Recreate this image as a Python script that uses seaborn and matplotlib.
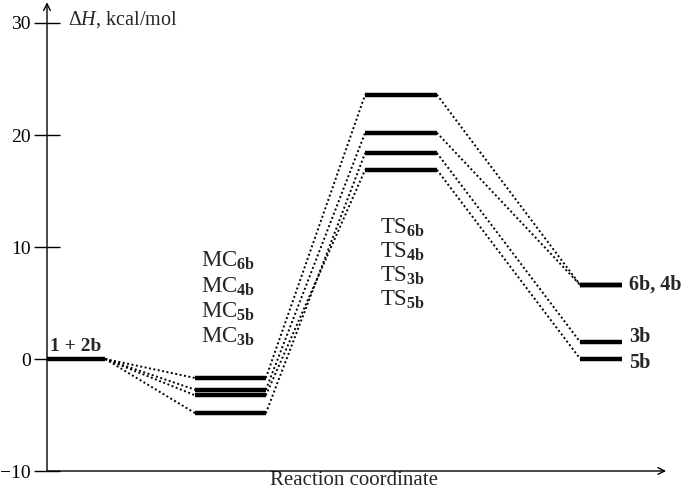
import pandas as pd
import numpy as np
import matplotlib
matplotlib.use('Agg')
import matplotlib.pyplot as plt
import seaborn as sns

# enthalpy levels, kcal/mol
pathways = ['6b', '4b', '5b', '3b']
mc_dh = [-1.7, -2.75, -3.25, -4.85]
ts_dh = [23.6, 20.2, 16.9, 18.4]
prod_dh = [6.6, 6.6, 0.0, 1.5]
react_dh = 0.0

mc_order = ['6b', '4b', '5b', '3b']
ts_order = ['6b', '4b', '3b', '5b']
prod_text = ['6b, 4b', '3b', '5b']
prod_text_dh = [6.6, 1.5, 0.0]

# stage extents on the reaction coordinate
stage_left = {'R': 0.0, 'MC': 2.42, 'TS': 5.19, 'P': 8.70}
stage_right = {'R': 0.95, 'MC': 3.57, 'TS': 6.36, 'P': 9.38}

sns.set_theme(style='white')
plt.rcParams['font.family'] = ['Liberation Serif', 'DejaVu Serif']
plt.rcParams['mathtext.fontset'] = 'custom'
plt.rcParams['mathtext.rm'] = 'Liberation Serif'
plt.rcParams['mathtext.it'] = 'Liberation Serif:italic'
plt.rcParams['mathtext.bf'] = 'Liberation Serif:bold'

fig = plt.figure(figsize=(6.85, 4.93), dpi=100)
ax = fig.add_axes([47 / 685, 22 / 493, 613 / 685, 448 / 493])

df = pd.DataFrame({'path': pathways, 'MC': mc_dh, 'TS': ts_dh, 'P': prod_dh})

# dotted connectors
segs = []
for i, r in df.iterrows():
    pts = [('R', 'MC', react_dh, r['MC']), ('MC', 'TS', r['MC'], r['TS']), ('TS', 'P', r['TS'], r['P'])]
    for j, (a, b, ya, yb) in enumerate(pts):
        sid = f"{r['path']}_{j}"
        segs.append({'seg': sid, 'x': stage_right[a], 'y': ya})
        segs.append({'seg': sid, 'x': stage_left[b], 'y': yb})
seg_df = pd.DataFrame(segs)
sns.lineplot(data=seg_df, x='x', y='y', units='seg', estimator=None, sort=False,
             color='black', linestyle=(0, (1, 1.3)), lw=1.4, ax=ax, zorder=2)

# energy levels
ax.hlines(react_dh, stage_left['R'], stage_right['R'], color='black', lw=3.2, zorder=3)
for st in ['MC', 'TS', 'P']:
    ax.hlines(df[st], stage_left[st], stage_right[st], color='black', lw=3.2, zorder=3)

# labels
ax.text(0.05, 0.35, '1 + 2b', fontsize=14, fontweight='bold', va='bottom', ha='left')
mc_y = [8.75, 6.45, 4.2, 1.95]
for lab, yy in zip(mc_order, mc_y):
    ax.text(2.52, yy, r'MC$_{\mathbf{' + lab + '}}$', fontsize=16.5, va='center', ha='left')
ts_y = [11.7, 9.55, 7.4, 5.25]
for lab, yy in zip(ts_order, ts_y):
    ax.text(5.43, yy, r'TS$_{\mathbf{' + lab + '}}$', fontsize=16.5, va='center', ha='left')
prod_off = [0.0, 0.45, -0.35]
for lab, yy, off in zip(prod_text, prod_text_dh, prod_off):
    ax.text(9.5, yy + off, lab, fontsize=14.5, fontweight='bold', va='center', ha='left')

ax.text(0.34, 30.3, 'Δ$H$, kcal/mol', fontsize=14.5, va='center', ha='left')

# axes
ax.set_xlim(0, 10)
ax.set_ylim(-10, 30)
ax.set_yticks([-10, 0, 10, 20, 30])
ax.set_yticklabels(['\u221210', '0', '10', '20', '30'])
ax.set_xticks([])
for s in ax.spines.values():
    s.set_visible(False)
ax.tick_params(axis='y', direction='inout', length=19, width=1, labelsize=14,
               color='black', labelcolor='black', left=True, pad=2)
ax.set_xlabel('Reaction coordinate', fontsize=15, labelpad=0)
ax.set_ylabel('')
ax.annotate('', xy=(0, 31.85), xytext=(0, -10), annotation_clip=False,
            arrowprops=dict(arrowstyle='->', lw=1, color='black', shrinkA=0, shrinkB=0))
ax.annotate('', xy=(10.1, -10), xytext=(0, -10), annotation_clip=False,
            arrowprops=dict(arrowstyle='->', lw=1, color='black', shrinkA=0, shrinkB=0))

fig.savefig('out.png', dpi=100, facecolor='white')
